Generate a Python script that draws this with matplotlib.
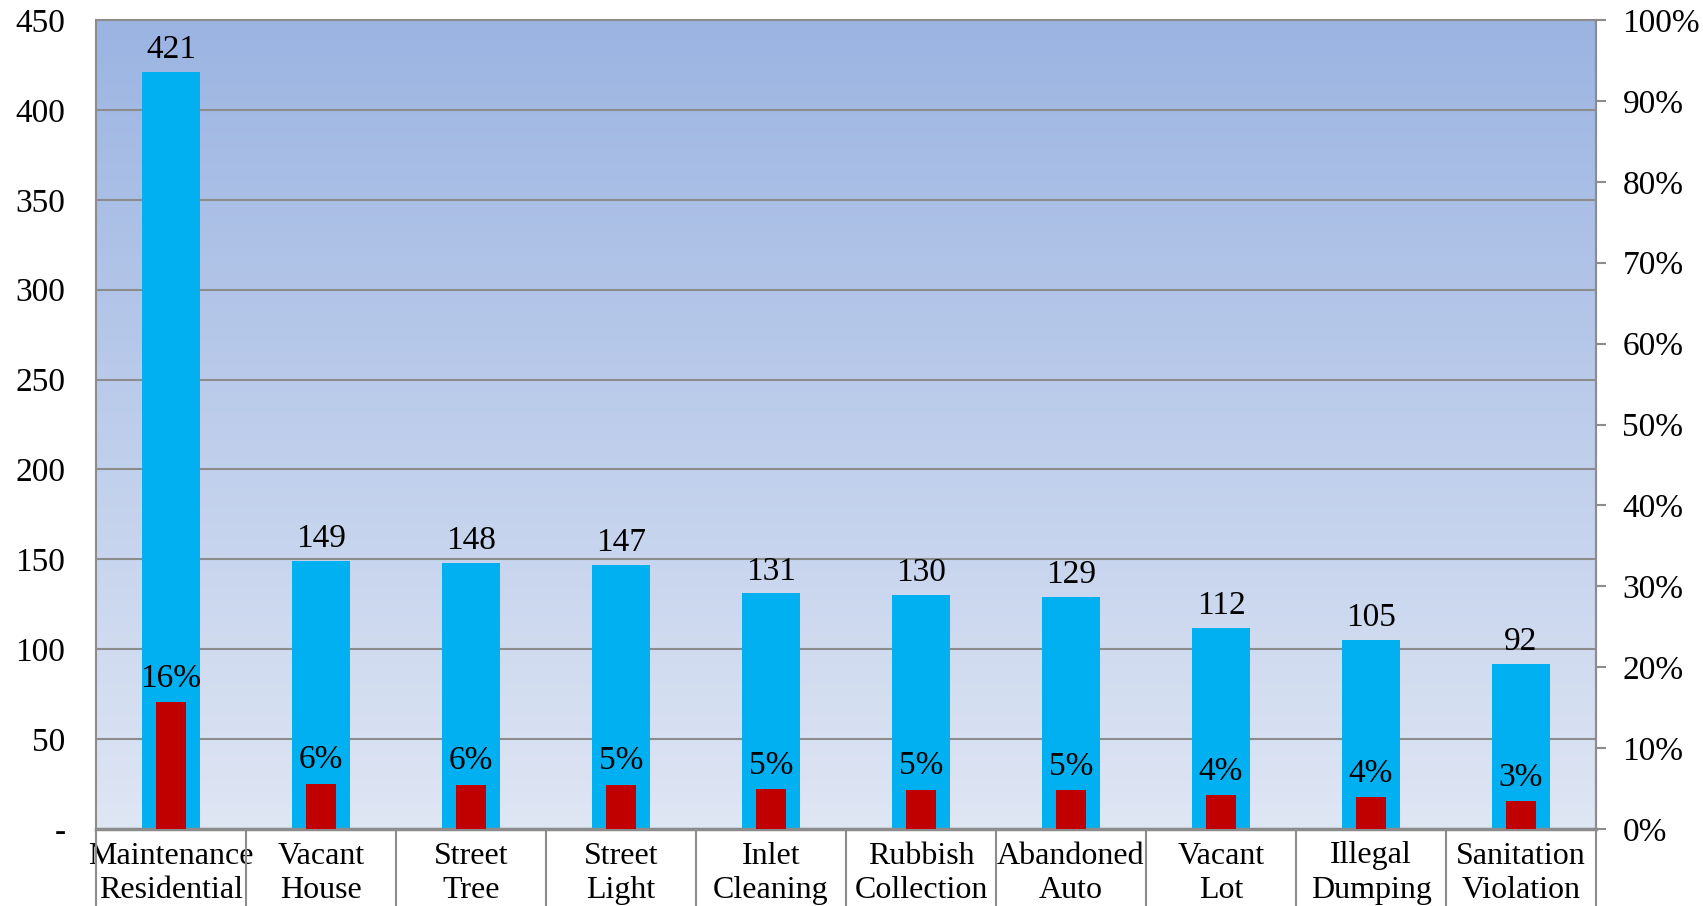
import numpy as np
import matplotlib.pyplot as plt
from matplotlib.colors import LinearSegmentedColormap

# ==========================================
# DATA
# ==========================================
categories = ['Maintenance\nResidential', 'Vacant\nHouse', 'Street\nTree', 'Street\nLight',
              'Inlet\nCleaning', 'Rubbish\nCollection', 'Abandoned\nAuto', 'Vacant\nLot',
              'Illegal\nDumping', 'Sanitation\nViolation']
counts = [421, 149, 148, 147, 131, 130, 129, 112, 105, 92]
share_pct = [15.7, 5.6, 5.5, 5.5, 4.9, 4.85, 4.8, 4.2, 3.9, 3.4]
share_labels = ['16%', '6%', '6%', '5%', '5%', '5%', '5%', '4%', '4%', '3%']

left_ticks = [0, 50, 100, 150, 200, 250, 300, 350, 400, 450]
left_labels = ['-', '50', '100', '150', '200', '250', '300', '350', '400', '450']
right_ticks = [0, 10, 20, 30, 40, 50, 60, 70, 80, 90, 100]

BLUE = '#00B0F0'
RED = '#C00000'
GRID = '#8C8C8C'
FONT = 'Liberation Serif'
FS = 24

plt.rcParams['font.family'] = [FONT, 'DejaVu Serif']

fig = plt.figure(figsize=(17.03, 9.06), dpi=100)
ax = fig.add_axes([96 / 1703, 1 - 829 / 906, (1596 - 96) / 1703, (829 - 20) / 906])

# gradient plot-area fill
grad = LinearSegmentedColormap.from_list('bg', ['#DFE6F4', '#9BB4E2'])
ax.imshow(np.linspace(0, 1, 256).reshape(-1, 1), cmap=grad, origin='lower',
          extent=[0, 1, 0, 1], transform=ax.transAxes, aspect='auto', zorder=0)

x = np.arange(len(categories))
ax.bar(x, counts, width=0.39, color=BLUE, zorder=2)
ax.set_xlim(-0.5, len(categories) - 0.5)
ax.set_ylim(0, 450)
ax.set_yticks(left_ticks)
ax.set_yticklabels(left_labels)
ax.tick_params(axis='y', length=0, pad=22, labelsize=FS)
ax.yaxis.grid(True, color=GRID, linewidth=1.5, zorder=1)
ax.set_axisbelow(True)

for xi, v in zip(x, counts):
    ax.annotate(str(v), (xi, v), xytext=(0, 5), textcoords='offset points',
                ha='center', va='bottom', fontsize=FS, zorder=5)

# category labels and separators
ax.set_xticks(x)
ax.set_xticklabels(categories, fontsize=23, linespacing=1.25)
ax.tick_params(axis='x', length=0, pad=9)
for b in np.arange(-0.5, len(categories) + 0.5, 1):
    ax.plot([b, b], [0, -0.12], transform=ax.get_xaxis_transform(),
            color=GRID, linewidth=1.5, clip_on=False, zorder=3)

for s in ['left', 'top', 'right']:
    ax.spines[s].set_color(GRID)
    ax.spines[s].set_linewidth(1.5)
ax.spines['bottom'].set_color(GRID)
ax.spines['bottom'].set_linewidth(2.5)

# secondary axis: share of total
ax2 = ax.twinx()
ax2.bar(x, share_pct, width=0.2, color=RED, zorder=3)
ax2.set_ylim(0, 100)
ax2.set_yticks(right_ticks)
ax2.set_yticklabels([f'{t}%' for t in right_ticks])
ax2.tick_params(axis='y', length=7, width=1.5, color=GRID, pad=12, labelsize=FS)
for s in ax2.spines.values():
    s.set_visible(False)
ax2.spines['right'].set_visible(True)
ax2.spines['right'].set_color(GRID)
ax2.spines['right'].set_linewidth(1.5)

for xi, v, lab in zip(x, share_pct, share_labels):
    ax2.annotate(lab, (xi, v), xytext=(0, 6), textcoords='offset points',
                 ha='center', va='bottom', fontsize=FS, zorder=5)

fig.savefig('out.png', dpi=100)
